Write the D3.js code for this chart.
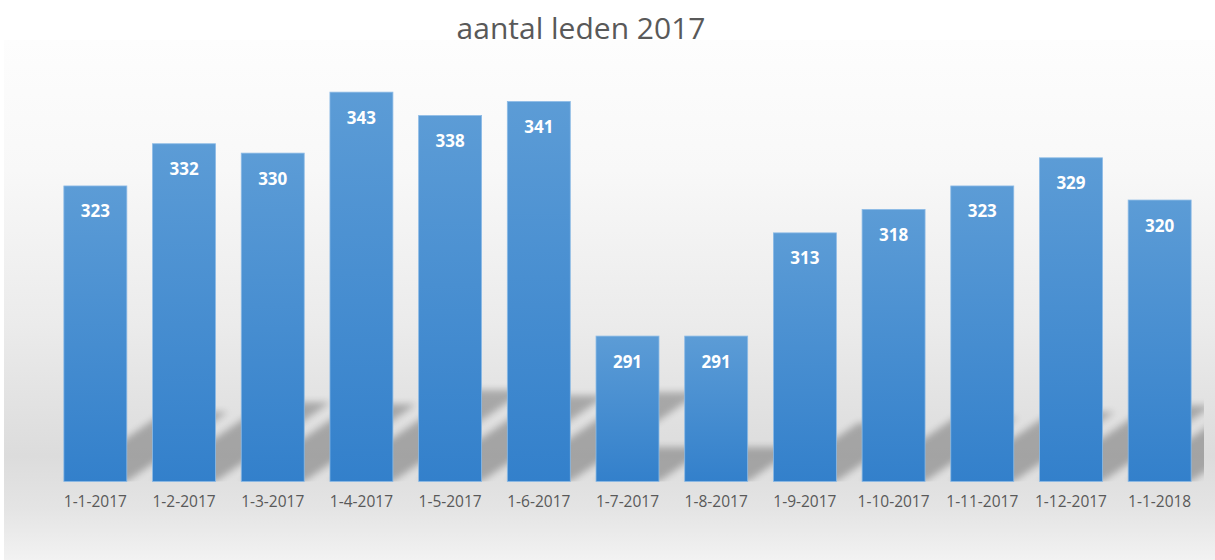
<!DOCTYPE html>
<html>
<head>
<meta charset="utf-8">
<script src="https://cdn.jsdelivr.net/npm/d3@7"></script>
<style>
  html, body { margin: 0; padding: 0; background: #fff; }
  svg { display: block; font-family: 'Open Sans', sans-serif; }
</style>
</head>
<body>
<div id="chart"></div>
<script>
const TITLE = 'aantal leden 2017'
const categories = ['1-1-2017', '1-2-2017', '1-3-2017', '1-4-2017', '1-5-2017', '1-6-2017', '1-7-2017',
  '1-8-2017', '1-9-2017', '1-10-2017', '1-11-2017', '1-12-2017', '1-1-2018']
const values = [323, 332, 330, 343, 338, 341, 291, 291, 313, 318, 323, 329, 320]
const yDomain = [260, 350]

const W = 1215, H = 560
const PLOT = { left: 51, right: 1204, top: 59.3, bottom: 481.5 }

const svg = d3.select('#chart').append('svg')
  .attr('width', W)
  .attr('height', H)

const defs = svg.append('defs')

// chart area background
const bg = defs.append('linearGradient').attr('id', 'bg').attr('x1', 0).attr('y1', 0).attr('x2', 0).attr('y2', 1)
;[[0, '#fdfdfd'], [0.25, '#f8f8f8'], [0.55, '#ebebeb'], [0.8, '#dcdcdc'], [0.9, '#e4e4e4'], [1, '#f2f2f2']]
  .forEach(([o, c]) => bg.append('stop').attr('offset', o).attr('stop-color', c))

const barGrad = defs.append('linearGradient').attr('id', 'bar').attr('x1', 0).attr('y1', 0).attr('x2', 0).attr('y2', 1)
barGrad.append('stop').attr('offset', 0).attr('stop-color', '#5c9cd6')
barGrad.append('stop').attr('offset', 1).attr('stop-color', '#3380cb')

defs.append('filter').attr('id', 'blur').attr('x', -0.5).attr('y', -0.5).attr('width', 2).attr('height', 2)
  .append('feGaussianBlur').attr('stdDeviation', 3.5)

defs.append('clipPath').attr('id', 'plotClip')
  .append('rect')
  .attr('x', PLOT.left).attr('y', PLOT.top)
  .attr('width', PLOT.right - PLOT.left).attr('height', PLOT.bottom - PLOT.top)

svg.append('rect')
  .attr('x', 4).attr('y', 40)
  .attr('width', W - 4).attr('height', H - 40)
  .attr('fill', 'url(#bg)')

const x = d3.scaleBand()
  .domain(categories)
  .range([PLOT.left, PLOT.right])
  .paddingInner(0.29)
  .paddingOuter(0.145)

const y = d3.scaleLinear()
  .domain(yDomain)
  .range([PLOT.bottom, PLOT.top])

const data = categories.map((c, i) => ({ cat: c, value: values[i] }))

// ── perspective shadows ──────────────────────────────────────
const gShadow = svg.append('g').attr('clip-path', 'url(#plotClip)')
gShadow.selectAll('polygon')
  .data(data)
  .join('polygon')
  .attr('points', d => {
    const x0 = x(d.cat), x1 = x0 + x.bandwidth()
    const b = y(yDomain[0])
    const sh = (b - y(d.value)) * 0.235
    const dx = sh * 1.45
    return [[x0, b], [x1, b], [x1 + dx, b - sh], [x0 + dx, b - sh]].join(' ')
  })
  .attr('fill', '#000')
  .attr('opacity', 0.26)
  .attr('filter', 'url(#blur)')

// ── bars ─────────────────────────────────────────────────────
svg.append('g').selectAll('rect')
  .data(data)
  .join('rect')
  .attr('x', d => x(d.cat))
  .attr('y', d => y(d.value))
  .attr('width', x.bandwidth())
  .attr('height', d => y(yDomain[0]) - y(d.value))
  .attr('fill', 'url(#bar)')
  .attr('stroke', '#8dbbe6')
  .attr('stroke-width', 0.8)

// ── value labels ─────────────────────────────────────────────
svg.append('g').selectAll('text')
  .data(data)
  .join('text')
  .attr('x', d => x(d.cat) + x.bandwidth() / 2)
  .attr('y', d => y(d.value) + 25)
  .attr('text-anchor', 'middle')
  .attr('dominant-baseline', 'central')
  .attr('fill', '#fff')
  .style('font-size', '17px')
  .style('font-weight', 700)
  .text(d => d.value)

// ── x axis ───────────────────────────────────────────────────
const gx = svg.append('g')
  .attr('transform', `translate(0,${PLOT.bottom})`)
  .call(d3.axisBottom(x).tickSize(0).tickPadding(14))
gx.select('.domain').remove()
gx.selectAll('text')
  .attr('fill', '#595959')
  .style('font-family', "'Open Sans', sans-serif")
  .style('font-size', '15.5px')

// ── title ────────────────────────────────────────────────────
svg.append('text')
  .attr('x', 581)
  .attr('y', 27)
  .attr('text-anchor', 'middle')
  .attr('dominant-baseline', 'central')
  .attr('fill', '#595959')
  .style('font-size', '30px')
  .text(TITLE)
</script>
</body>
</html>
